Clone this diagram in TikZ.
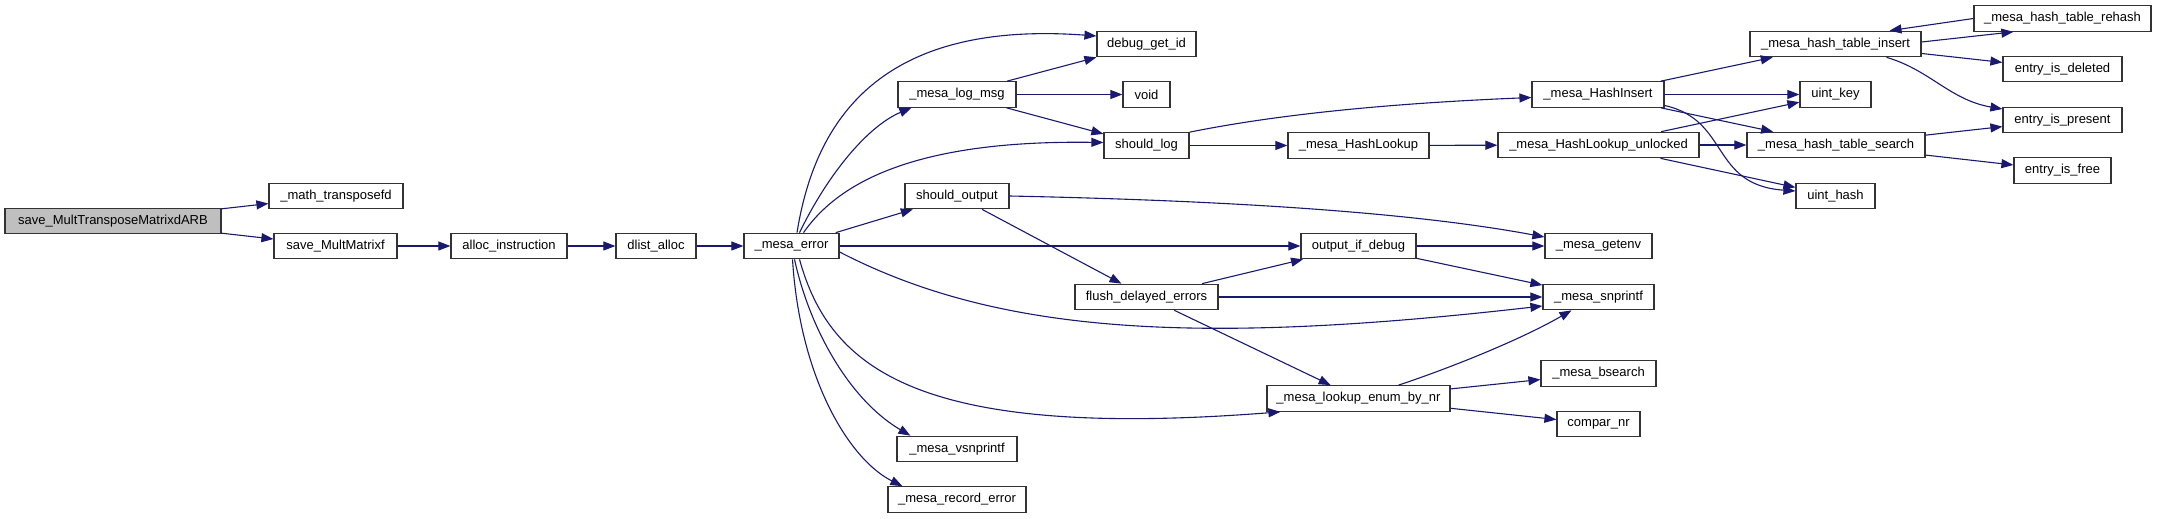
\documentclass[tikz,border=0pt]{standalone}
\usepackage{fontspec}
\setmainfont{Liberation Sans}
\usetikzlibrary{arrows.meta}
\definecolor{edgec}{HTML}{191970}
\definecolor{bordc}{HTML}{333333}
\definecolor{rootfill}{HTML}{BFBFBF}
\begin{document}
\begin{tikzpicture}[x=1pt,y=-1pt,
  box/.style={draw=bordc, line width=1.2pt, fill=white, inner sep=0pt, minimum height=25.5pt, font=\fontsize{13}{15}\selectfont},
  e/.style={draw=edgec, line width=1.1pt, -{Triangle[length=12pt,width=9pt]}}]
\useasboundingbox (0,0) rectangle (2157,519);
% nodes
\node[box, fill=rootfill, minimum width=216pt] (smt) at (113,221) {save\_MultTransposeMatrixdARB};
\node[box, minimum width=134pt] (mtf) at (336,196) {\_math\_transposefd};
\node[box, minimum width=123pt] (smm) at (335.5,246) {save\_MultMatrixf};
\node[box, minimum width=116pt] (ai) at (509,246) {alloc\_instruction};
\node[box, minimum width=80pt] (dla) at (656,246) {dlist\_alloc};
\node[box, minimum width=95pt] (err) at (791.5,246) {\_mesa\_error};
\node[box, minimum width=118pt] (lm) at (957,94.5) {\_mesa\_log\_msg};
\node[box, minimum width=104pt] (so) at (957,196) {should\_output};
\node[box, minimum width=120pt] (vsn) at (957,449) {\_mesa\_vsnprintf};
\node[box, minimum width=138pt] (rec) at (957,499.5) {\_mesa\_record\_error};
\node[box, minimum width=99pt] (dbg) at (1146.5,44) {debug\_get\_id};
\node[box, minimum width=47pt] (vd) at (1146.5,94.5) {void};
\node[box, minimum width=85pt] (sl) at (1146.5,145.5) {should\_log};
\node[box, minimum width=143pt] (fde) at (1146.5,297) {flush\_delayed\_errors};
\node[box, minimum width=115pt] (oid) at (1358.5,246) {output\_if\_debug};
\node[box, minimum width=183pt] (lenr) at (1358.5,398.5) {\_mesa\_lookup\_enum\_by\_nr};
\node[box, minimum width=141pt] (hl) at (1358.5,145.5) {\_mesa\_HashLookup};
\node[box, minimum width=132pt] (hi) at (1598,94.5) {\_mesa\_HashInsert};
\node[box, minimum width=201pt] (hlu) at (1598.5,145) {\_mesa\_HashLookup\_unlocked};
\node[box, minimum width=107pt] (ge) at (1598.5,246) {\_mesa\_getenv};
\node[box, minimum width=111pt] (snp) at (1598.5,297) {\_mesa\_snprintf};
\node[box, minimum width=115pt] (bs) at (1598.5,373.5) {\_mesa\_bsearch};
\node[box, minimum width=83pt] (cnr) at (1598.5,424) {compar\_nr};
\node[box, minimum width=171pt] (hti) at (1835.5,44) {\_mesa\_hash\_table\_insert};
\node[box, minimum width=71pt] (uk) at (1835.5,94.5) {uint\_key};
\node[box, minimum width=178pt] (hts) at (1836,145) {\_mesa\_hash\_table\_search};
\node[box, minimum width=79pt] (uh) at (1835.5,196) {uint\_hash};
\node[box, minimum width=177pt] (reh) at (2062.5,18.5) {\_mesa\_hash\_table\_rehash};
\node[box, minimum width=119pt] (eid) at (2062.5,69) {entry\_is\_deleted};
\node[box, minimum width=119pt] (eip) at (2062.5,120) {entry\_is\_present};
\node[box, minimum width=97pt] (eif) at (2062.5,170.5) {entry\_is\_free};
% straight edges
\draw[e] (smt) -- (mtf);
\draw[e] (smt) -- (smm);
\draw[e] (smm) -- (ai);
\draw[e] (ai) -- (dla);
\draw[e] (dla) -- (err);
\draw[e] (err) -- (so);
\draw[e] (err) -- (oid);
\draw[e] (lm) -- (dbg);
\draw[e] (lm) -- (vd);
\draw[e] (lm) -- (sl);
\draw[e] (sl) -- (hl);
\draw[e] (hl) -- (hlu);
\draw[e] (so) -- (fde);
\draw[e] (fde) -- (oid);
\draw[e] (fde) -- (snp);
\draw[e] (fde) -- (lenr);
\draw[e] (oid) -- (ge);
\draw[e] (oid) -- (snp);
\draw[e] (lenr) -- (bs);
\draw[e] (lenr) -- (cnr);
\draw[e] (hi) -- (hti);
\draw[e] (hi) -- (uk);
\draw[e] (hi) -- (hts);
\draw[e] (hlu) -- (uk);
\draw[e] (hlu) -- (hts);
\draw[e] (hlu) -- (uh);
\draw[e] ([yshift=2pt]hti.east) -- ([xshift=40pt]reh.south west);
\draw[e] (reh.west) -- ([xshift=54pt]hti.north);
\draw[e] (hti) -- (eid);
\draw[e] (hts) -- (eip);
\draw[e] (hts) -- (eif);
% curved edges
\draw[e] ([xshift=5.5pt]err.north) .. controls (815,120) and (880,20) .. ([yshift=8pt]dbg.west);
\draw[e] ([xshift=8pt]err.north) .. controls (830,170) and (870,125) .. ([xshift=14pt]lm.south west);
\draw[e] ([xshift=12pt]err.north) .. controls (840,180) and (920,140) .. ([yshift=3pt]sl.west);
\draw[e] ([yshift=-6pt]err.east) .. controls (1000,335) and (1200,345) .. ([yshift=-9pt]snp.west);
\draw[e] ([xshift=8pt]err.south) .. controls (830,370) and (920,440) .. ([xshift=14pt]lenr.south west);
\draw[e] ([xshift=3pt]err.south) .. controls (810,330) and (850,400) .. ([xshift=14pt]vsn.north west);
\draw[e] ([xshift=1pt]err.south) .. controls (800,380) and (850,460) .. ([xshift=15pt]rec.north west);
\draw[e] (sl.north east) .. controls (1250,120) and (1350,105) .. ([yshift=-3pt]hi.west);
\draw[e] (so.east) .. controls (1200,200) and (1400,210) .. ([yshift=9pt]ge.west);
\draw[e] ([xshift=40pt]lenr.north) .. controls (1450,368) and (1520,340) .. ([xshift=-27pt]snp.south);
\draw[e] ([yshift=-11pt]hi.east) .. controls (1730,120) and (1710,185) .. ([yshift=5pt]uh.west);
\draw[e] ([xshift=51pt]hti.south) .. controls (1930,70) and (1950,100) .. ([yshift=11pt]eip.west);
\end{tikzpicture}
\end{document}
